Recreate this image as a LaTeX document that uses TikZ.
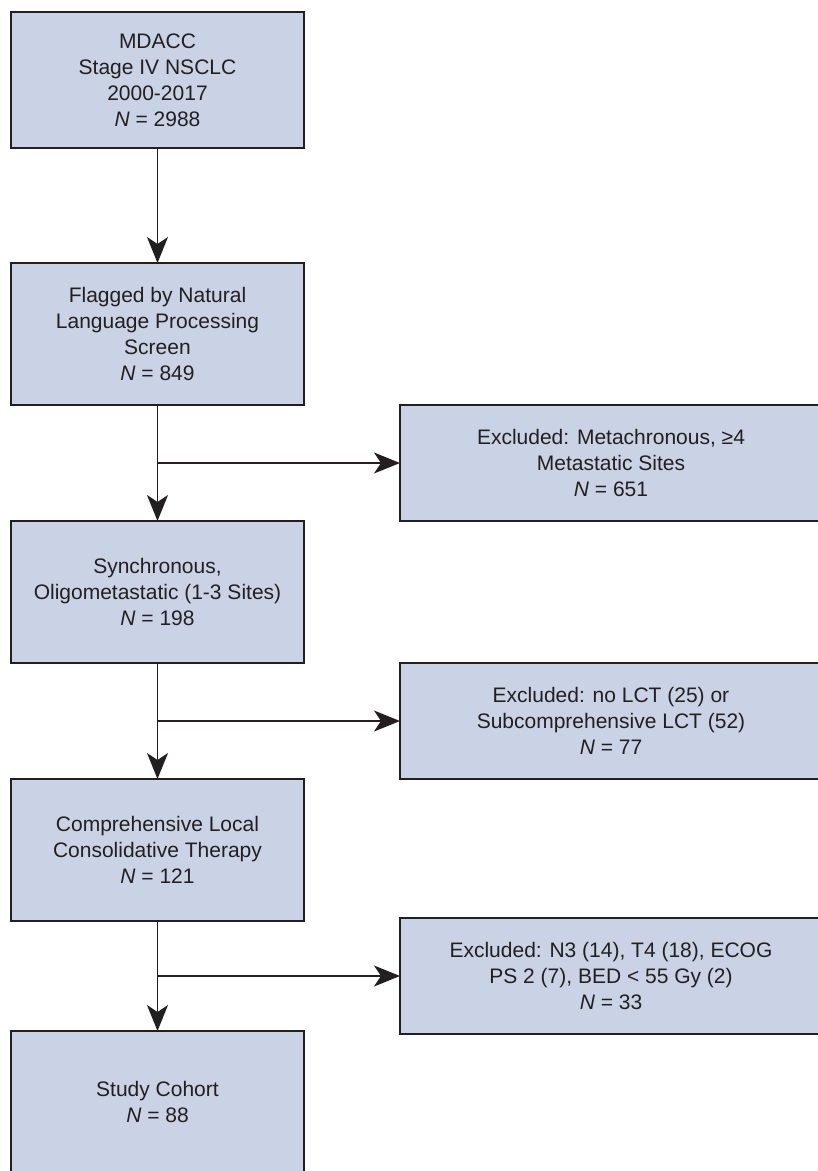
\documentclass[tikz,border=0pt]{standalone}
\usepackage{fontspec}
\setmainfont{Liberation Sans}
\usetikzlibrary{arrows.meta,calc}
\definecolor{boxfill}{HTML}{C9D3E5}
\definecolor{boxline}{HTML}{231F20}
\tikzset{
  flowbox/.style={draw=boxline, line width=2pt, fill=boxfill, rectangle, align=center,
    inner sep=0pt, outer sep=0pt, font=\fontsize{21}{26}\selectfont, text=boxline},
  leftbox/.style={flowbox, minimum width=293pt},
  rightbox/.style={flowbox, minimum width=422pt, minimum height=116pt},
  conn/.style={draw=boxline, line width=1.5pt},
  arr/.style={conn, -{Stealth[length=26pt, width=21pt, inset=7pt]}}
}
\begin{document}
\begin{tikzpicture}[x=1pt,y=-1pt]
\useasboundingbox (0,0) rectangle (818,1171);
\clip (0,0) rectangle (818,1171);
\node[leftbox, minimum height=136pt] (b1) at (157.5,80) {MDACC\\Stage IV NSCLC\\2000-2017\\\textit{N} = 2988};
\node[leftbox, minimum height=142pt] (b2) at (157.5,334) {Flagged by Natural\\Language Processing\\Screen\\\textit{N} = 849};
\node[leftbox, minimum height=142pt] (b3) at (157.5,592) {Synchronous,\\Oligometastatic (1-3 Sites)\\\textit{N} = 198};
\node[leftbox, minimum height=142pt] (b4) at (157.5,850) {Comprehensive Local\\Consolidative Therapy\\\textit{N} = 121};
\node[leftbox, minimum height=142pt] (b5) at (157.5,1102) {Study Cohort\\\textit{N} = 88};
\node[rightbox] (r1) at (611,463) {Excluded: Metachronous, ≥4\\Metastatic Sites\\\textit{N} = 651};
\node[rightbox] (r2) at (611,721) {Excluded: no LCT (25) or\\Subcomprehensive LCT (52)\\\textit{N} = 77};
\node[rightbox] (r3) at (611,976) {Excluded: N3 (14), T4 (18), ECOG\\PS 2 (7), BED < 55 Gy (2)\\\textit{N} = 33};
\coordinate (j1) at (b2.south |- r1.west);
\coordinate (j2) at (b3.south |- r2.west);
\coordinate (j3) at (b4.south |- r3.west);
\draw[arr] (b1.south) -- (b2.north);
\draw[arr] (b2.south) -- (b3.north);
\draw[arr] (j1) -- (r1.west);
\draw[arr] (b3.south) -- (b4.north);
\draw[arr] (j2) -- (r2.west);
\draw[arr] (b4.south) -- (b5.north);
\draw[arr] (j3) -- (r3.west);
\end{tikzpicture}
\end{document}
